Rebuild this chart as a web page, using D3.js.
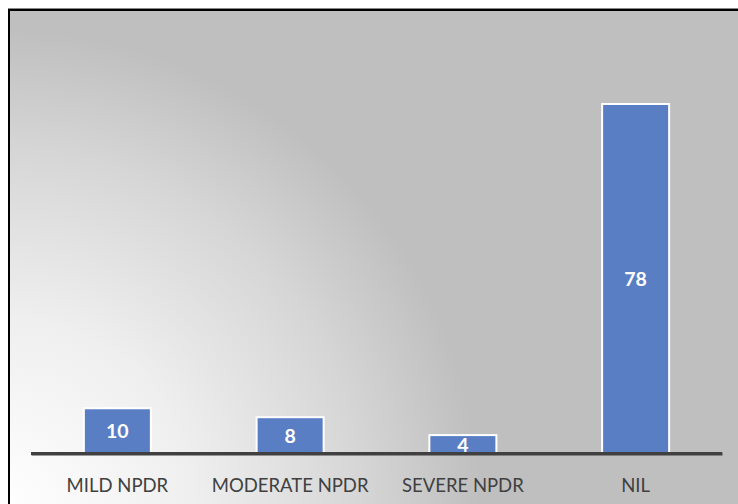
<!DOCTYPE html>
<html><head><meta charset="utf-8">
<script src="https://cdn.jsdelivr.net/npm/d3@7"></script>
<style>html,body{margin:0;padding:0;background:#fff;}svg{display:block;}</style>
</head><body>
<script>
const categories = ["MILD NPDR", "MODERATE NPDR", "SEVERE NPDR", "NIL"];
const values = [10, 8, 4, 78];

const W = 738, H = 504;
const svg = d3.select("body").append("svg").attr("width", W).attr("height", H);

const defs = svg.append("defs");
const grad = defs.append("radialGradient").attr("id", "bg")
  .attr("gradientUnits", "userSpaceOnUse")
  .attr("cx", 0).attr("cy", 510).attr("r", 480);
grad.append("stop").attr("offset", 0).attr("stop-color", "#ffffff");
grad.append("stop").attr("offset", 0.4).attr("stop-color", "#efefef");
grad.append("stop").attr("offset", 0.75).attr("stop-color", "#d6d6d6");
grad.append("stop").attr("offset", 1).attr("stop-color", "#bfbfbf");

// frame
svg.append("rect").attr("x", 9).attr("y", 10).attr("width", W + 10).attr("height", H + 10)
  .attr("fill", "url(#bg)").attr("stroke", "#000").attr("stroke-width", 2);
svg.append("line").attr("x1", 8).attr("x2", W).attr("y1", 8.5).attr("y2", 8.5)
  .attr("stroke", "#888").attr("stroke-width", 1);

const x = d3.scaleBand().domain(categories).range([31, 722]).paddingInner(0.612).paddingOuter(0.306);
const y = d3.scaleLinear().domain([0, 78]).range([453, 104]);

svg.selectAll("rect.bar").data(values).join("rect").attr("class", "bar")
  .attr("x", (d, i) => x(categories[i]))
  .attr("y", d => y(d))
  .attr("width", x.bandwidth())
  .attr("height", d => y(0) - y(d))
  .attr("fill", "#5a7ec4").attr("stroke", "#fff").attr("stroke-width", 2);

// axis baseline
const axis = svg.append("g").attr("transform", "translate(0,453.5)")
  .call(d3.axisBottom(x).tickSize(0).tickPadding(0));
axis.select(".domain").attr("stroke", "#404040").attr("stroke-width", 3);
axis.selectAll(".tick text").attr("y", 0).attr("dy", 38)
  .attr("font-family", "Lato, 'Open Sans', sans-serif").attr("font-size", 18.5)
  .attr("fill", "#404040");

svg.selectAll("text.val").data(values).join("text").attr("class", "val")
  .attr("x", (d, i) => x(categories[i]) + x.bandwidth() / 2)
  .attr("y", d => (y(d) + y(0)) / 2 + 7.5)
  .attr("text-anchor", "middle")
  .attr("font-family", "Lato, 'Open Sans', sans-serif").attr("font-weight", "bold")
  .attr("font-size", 19.5).attr("fill", "#fff")
  .text(d => d);
// baseline drawn over the small-bar labels as in reference
svg.append("line").attr("x1", 31).attr("x2", 722).attr("y1", 453.5).attr("y2", 453.5)
  .attr("stroke", "#404040").attr("stroke-width", 3);
</script>
</body></html>
